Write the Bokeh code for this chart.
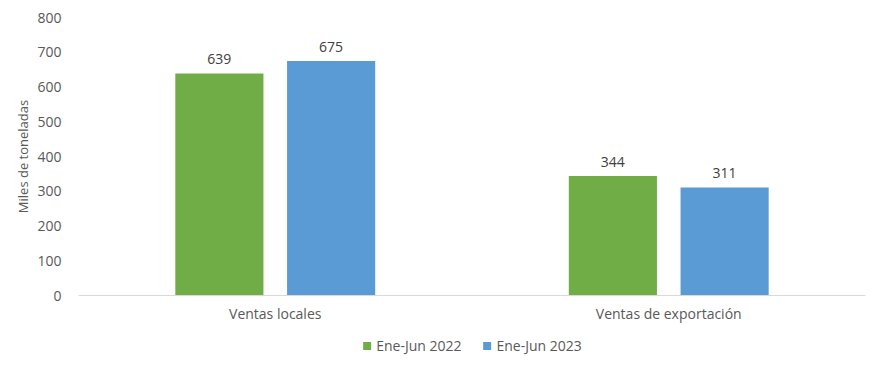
from bokeh.plotting import figure
from bokeh.layouts import column
from bokeh.models import ColumnDataSource, FactorRange, Range1d, Legend, LegendItem, LabelSet
from bokeh.core.properties import value
from bokeh.transform import dodge
from bokeh.embed import file_html
from bokeh.resources import INLINE

categories = ["Ventas locales", "Ventas de exportación"]
series_names = ["Ene-Jun 2022", "Ene-Jun 2023"]
values_2022 = [639, 344]
values_2023 = [675, 311]
y_ticks = [0, 100, 200, 300, 400, 500, 600, 700, 800]

colors = ["#70AD47", "#5B9BD5"]
FONT = "Open Sans"

src = ColumnDataSource(data=dict(
    cat=categories,
    v22=values_2022,
    v23=values_2023,
    l22=[str(v) for v in values_2022],
    l23=[str(v) for v in values_2023],
))

p = figure(frame_width=787, frame_height=278,
           x_range=FactorRange(*categories, range_padding=0),
           y_range=Range1d(0, 800), output_backend="svg", toolbar_location=None,
           min_border_left=78, min_border_right=8, min_border_top=17, min_border_bottom=0)
p.outline_line_color = None
p.xgrid.grid_line_color = None
p.ygrid.grid_line_color = None

p.vbar(x=dodge("cat", -0.142, range=p.x_range), top="v22", width=0.224, source=src,
       fill_color=colors[0], line_color=None)
p.vbar(x=dodge("cat", 0.142, range=p.x_range), top="v23", width=0.224, source=src,
       fill_color=colors[1], line_color=None)

for col, lab, off in [("v22", "l22", -0.142), ("v23", "l23", 0.142)]:
    ls = LabelSet(x=dodge("cat", off, range=p.x_range), y=col, text=lab, source=src,
                  text_align="center", text_baseline="bottom", y_offset=9,
                  text_font=value(FONT), text_font_size="14px", text_color="#404040")
    p.add_layout(ls)

p.yaxis.ticker = y_ticks
p.yaxis.axis_line_color = None
p.yaxis.major_tick_line_color = None
p.yaxis.minor_tick_line_color = None
p.yaxis.major_label_text_font = FONT
p.yaxis.major_label_text_font_size = "14px"
p.yaxis.major_label_text_color = "#595959"
p.yaxis.axis_label = "Miles de toneladas"
p.yaxis.axis_label_text_font = FONT
p.yaxis.axis_label_text_font_size = "13px"
p.yaxis.axis_label_text_font_style = "normal"
p.yaxis.axis_label_text_color = "#595959"
p.yaxis.major_label_standoff = 11
p.yaxis.axis_label_standoff = 2

p.xaxis.axis_line_color = "#D9D9D9"
p.xaxis.major_tick_line_color = None
p.xaxis.minor_tick_line_color = None
p.xaxis.major_tick_out = 0
p.xaxis.major_label_text_font = FONT
p.xaxis.major_label_text_font_size = "14px"
p.xaxis.major_label_text_color = "#595959"
p.xaxis.major_label_standoff = 8
p.xaxis.axis_label_standoff = 0

# legend strip below the chart (bars here fall outside the visible range)
p2 = figure(width=873, height=40, x_range=p.x_range, y_range=Range1d(1000, 1001),
            output_backend="svg", toolbar_location=None,
            x_axis_location=None, y_axis_location=None,
            min_border_left=16, min_border_right=0, min_border_top=0, min_border_bottom=0)
p2.outline_line_color = None
p2.xgrid.grid_line_color = None
p2.ygrid.grid_line_color = None
g1 = p2.vbar(x=dodge("cat", -0.142, range=p2.x_range), top="v22", width=0.224, source=src,
             fill_color=colors[0], line_color=None)
g2 = p2.vbar(x=dodge("cat", 0.142, range=p2.x_range), top="v23", width=0.224, source=src,
             fill_color=colors[1], line_color=None)

legend = Legend(items=[LegendItem(label=series_names[0], renderers=[g1]),
                       LegendItem(label=series_names[1], renderers=[g2])],
                orientation="horizontal", location="center",
                label_text_font=FONT, label_text_font_size="14px", label_text_color="#595959",
                glyph_width=10, glyph_height=10, label_height=18, spacing=20, label_standoff=5,
                border_line_color=None, background_fill_alpha=0, margin=0, padding=2)
p2.add_layout(legend, "center")

open("out.html", "w").write(file_html(column(p, p2, spacing=0), INLINE))
